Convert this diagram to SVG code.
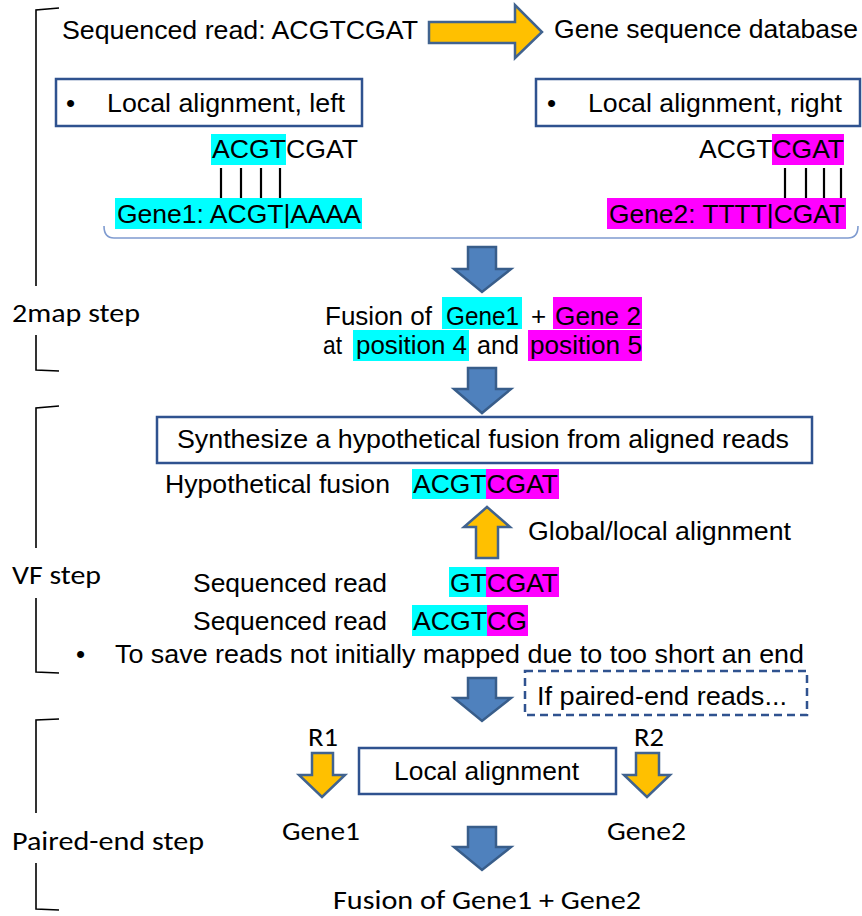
<svg xmlns="http://www.w3.org/2000/svg" width="862" height="916" viewBox="0 0 862 916">
<defs>
<style>
.t{font-family:"Liberation Sans",Arial,sans-serif;font-size:26px;fill:#000}
.c{font-family:Carlito,Lato,"Open Sans",sans-serif;font-size:27px;fill:#000}
.box{fill:#fff;stroke:#2F528F;stroke-width:2.5}
.dash{fill:none;stroke:#2F528F;stroke-width:2.5;stroke-dasharray:8,5}
.barr{fill:#4F81BD;stroke:#385D8A;stroke-width:2.5;stroke-linejoin:miter}
.oarr{fill:#FFC000;stroke:#41638F;stroke-width:2.5;stroke-linejoin:miter}
.brk{fill:none;stroke:#000;stroke-width:1.6}
.cy{fill:#00FFFF}
.mg{fill:#FF00FF}
.pipe{stroke:#000;stroke-width:2.2}
</style>
</defs>
<rect width="862" height="916" fill="#fff"/>

<g id="brackets">
<path class="brk" d="M59,8 L36,10 L36,286"/>
<path class="brk" d="M36,335 L36,370 L59,371"/>
<path class="brk" d="M59,406 L36,408 L36,548"/>
<path class="brk" d="M36,598 L36,672 L59,673"/>
<path class="brk" d="M59,719 L36,720 L36,813"/>
<path class="brk" d="M36,863 L36,909 L59,910"/>
<text class="c" x="12" y="322" textLength="128" lengthAdjust="spacingAndGlyphs">2map step</text>
<text class="c" x="12" y="584" textLength="89" lengthAdjust="spacingAndGlyphs">VF step</text>
<text class="c" x="12" y="850" textLength="192" lengthAdjust="spacingAndGlyphs">Paired-end step</text>
</g>

<g id="top-read">
<text class="t" x="62" y="39" textLength="356" lengthAdjust="spacingAndGlyphs">Sequenced read: ACGTCGAT</text>
</g>
<g id="database">
<text class="t" x="554" y="38" textLength="304" lengthAdjust="spacingAndGlyphs">Gene sequence database</text>
</g>

<g id="local-left">
<rect class="box" x="56" y="79" width="306" height="47"/>
<text class="t" x="66" y="112">•</text>
<text class="t" x="107" y="112" textLength="238" lengthAdjust="spacingAndGlyphs">Local alignment, left</text>
</g>
<g id="local-right">
<rect class="box" x="536" y="79" width="324" height="47"/>
<text class="t" x="547" y="112">•</text>
<text class="t" x="588" y="112" textLength="254" lengthAdjust="spacingAndGlyphs">Local alignment, right</text>
</g>

<g id="align-left">
<rect class="cy" x="211" y="134" width="75" height="31"/>
<text class="t" x="212" y="158" textLength="146" lengthAdjust="spacingAndGlyphs">ACGTCGAT</text>
<line class="pipe" x1="221" y1="168" x2="221" y2="198"/>
<line class="pipe" x1="241" y1="168" x2="241" y2="198"/>
<line class="pipe" x1="261" y1="168" x2="261" y2="198"/>
<line class="pipe" x1="280" y1="168" x2="280" y2="198"/>
<rect class="cy" x="115" y="198" width="247" height="31"/>
<text class="t" x="117" y="223" textLength="244" lengthAdjust="spacingAndGlyphs">Gene1: ACGT|AAAA</text>
</g>
<g id="align-right">
<rect class="mg" x="772" y="134" width="72" height="31"/>
<text class="t" x="699" y="158" textLength="145" lengthAdjust="spacingAndGlyphs">ACGTCGAT</text>
<line class="pipe" x1="785" y1="168" x2="785" y2="198"/>
<line class="pipe" x1="806" y1="168" x2="806" y2="198"/>
<line class="pipe" x1="824" y1="168" x2="824" y2="198"/>
<line class="pipe" x1="841" y1="168" x2="841" y2="198"/>
<rect class="mg" x="607" y="198" width="239" height="31"/>
<text class="t" x="609" y="223" textLength="236" lengthAdjust="spacingAndGlyphs">Gene2: TTTT|CGAT</text>
</g>

<g id="fusion1">
<rect class="cy" x="442" y="297" width="80" height="32"/>
<rect class="mg" x="553" y="297" width="89" height="32"/>
<rect class="cy" x="353" y="330" width="116" height="31"/>
<rect class="mg" x="528" y="330" width="114" height="31"/>
<text class="t" x="325" y="325" textLength="107" lengthAdjust="spacingAndGlyphs">Fusion of</text>
<text class="t" x="446" y="325" textLength="73" lengthAdjust="spacingAndGlyphs">Gene1</text>
<text class="t" x="531" y="325">+</text>
<text class="t" x="555" y="325" textLength="86" lengthAdjust="spacingAndGlyphs">Gene 2</text>
<text class="t" x="323" y="354" textLength="19" lengthAdjust="spacingAndGlyphs">at</text>
<text class="t" x="356" y="354" textLength="111" lengthAdjust="spacingAndGlyphs">position 4</text>
<text class="t" x="477" y="354" textLength="42" lengthAdjust="spacingAndGlyphs">and</text>
<text class="t" x="530" y="354" textLength="112" lengthAdjust="spacingAndGlyphs">position 5</text>
</g>

<g id="synthesize">
<rect class="box" x="157" y="417" width="655" height="46"/>
<text class="t" x="177" y="448" textLength="612" lengthAdjust="spacingAndGlyphs">Synthesize a hypothetical fusion from aligned reads</text>
</g>

<g id="hypothetical">
<text class="t" x="165" y="493" textLength="225" lengthAdjust="spacingAndGlyphs">Hypothetical fusion</text>
<rect class="cy" x="412" y="469" width="74" height="30"/>
<rect class="mg" x="486" y="469" width="73" height="30"/>
<text class="t" x="413" y="493" textLength="145" lengthAdjust="spacingAndGlyphs">ACGTCGAT</text>
</g>

<g id="global-label">
<text class="t" x="528" y="540" textLength="263" lengthAdjust="spacingAndGlyphs">Global/local alignment</text>
</g>

<g id="read1">
<text class="t" x="193" y="592" textLength="194" lengthAdjust="spacingAndGlyphs">Sequenced read</text>
<rect class="cy" x="449" y="567" width="37" height="30"/>
<rect class="mg" x="486" y="567" width="73" height="30"/>
<text class="t" x="450" y="592" textLength="108" lengthAdjust="spacingAndGlyphs">GTCGAT</text>
</g>
<g id="read2">
<text class="t" x="193" y="630" textLength="194" lengthAdjust="spacingAndGlyphs">Sequenced read</text>
<rect class="cy" x="412" y="605" width="75" height="31"/>
<rect class="mg" x="487" y="605" width="41" height="31"/>
<text class="t" x="413" y="630" textLength="114" lengthAdjust="spacingAndGlyphs">ACGTCG</text>
</g>

<g id="note">
<text class="t" x="76" y="663">•</text>
<text class="t" x="115" y="663" textLength="689" lengthAdjust="spacingAndGlyphs">To save reads not initially mapped due to too short an end</text>
</g>

<g id="paired-if">
<rect class="dash" x="525" y="671" width="282" height="44"/>
<text class="t" x="537" y="705" textLength="250" lengthAdjust="spacingAndGlyphs">If paired-end reads...</text>
</g>

<g id="local-alignment">
<rect class="box" x="359" y="748" width="257" height="46"/>
<text class="t" x="394" y="780" textLength="185" lengthAdjust="spacingAndGlyphs">Local alignment</text>
</g>

<g id="r1">
<text class="c" x="308" y="746" textLength="30" lengthAdjust="spacingAndGlyphs">R1</text>
</g>
<g id="r2">
<text class="c" x="634" y="746" textLength="30" lengthAdjust="spacingAndGlyphs">R2</text>
</g>
<g id="gene1">
<text class="c" x="282" y="840" textLength="78" lengthAdjust="spacingAndGlyphs">Gene1</text>
</g>
<g id="gene2">
<text class="c" x="607" y="840" textLength="79" lengthAdjust="spacingAndGlyphs">Gene2</text>
</g>
<g id="final">
<text class="c" x="333" y="909" textLength="308" lengthAdjust="spacingAndGlyphs" style="font-size:26px">Fusion of Gene1 + Gene2</text>
</g>

<g id="connectors">
<polygon class="oarr" points="429,22 515,22 515,5 542,32 515,58 515,43 429,43"/>
<path d="M104,226 Q104,238 114,238 L848,238 Q858,238 858,226" fill="none" stroke="#7F9BD0" stroke-width="1.6"/>
<polygon class="barr" points="468,247 496,247 496,269 511,269 482,292 454,269 468,269"/>
<polygon class="barr" points="468,368 496,368 496,389 511,389 482,413 454,389 468,389"/>
<polygon class="oarr" points="487,507 510,527 498,527 498,558 476,558 476,527 464,527"/>
<polygon class="barr" points="468,678 496,678 496,698 511,698 482,721 454,698 468,698"/>
<polygon class="oarr" points="312,753 333,753 333,775 345,775 322,797 299,775 312,775"/>
<polygon class="oarr" points="636,753 659,753 659,775 670,775 647,797 624,775 636,775"/>
<polygon class="barr" points="468,827 496,827 496,847 511,847 482,870 454,847 468,847"/>
</g>
</svg>
